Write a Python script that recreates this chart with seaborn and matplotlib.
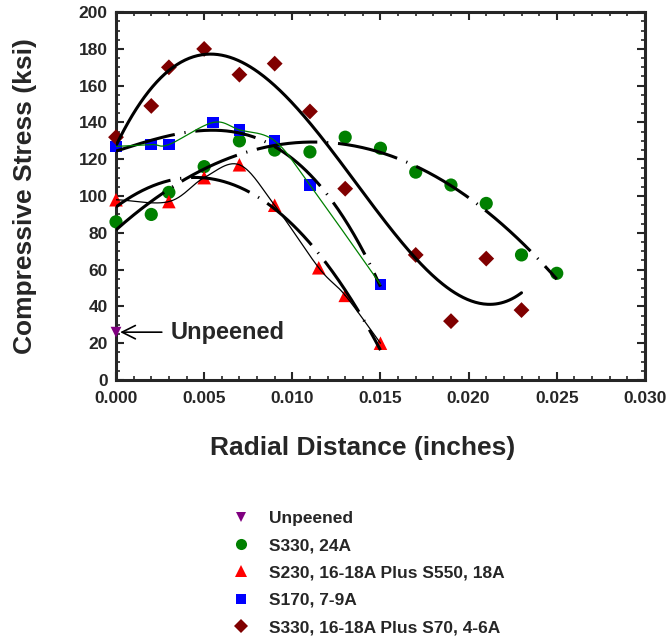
import numpy as np
import pandas as pd
import matplotlib
matplotlib.use("Agg")
import matplotlib.pyplot as plt
from matplotlib.lines import Line2D
from matplotlib.ticker import MultipleLocator, FormatStrFormatter
import seaborn as sns

# ---- data ----
unpeened_x = [0.0]
unpeened_y = [26]

s330_x = [0.0, 0.002, 0.003, 0.005, 0.007, 0.009, 0.011, 0.013, 0.015, 0.017, 0.019, 0.021, 0.023, 0.025]
s330_y = [86, 90, 102, 116, 130, 125, 124, 132, 126, 113, 106, 96, 68, 58]

s230_x = [0.0, 0.003, 0.005, 0.007, 0.009, 0.0115, 0.013, 0.015]
s230_y = [98, 97, 110, 117, 95, 61, 46, 20]

s170_x = [0.0, 0.002, 0.003, 0.0055, 0.007, 0.009, 0.011, 0.015]
s170_y = [127, 128, 128, 140, 136, 130, 106, 52]

s330b_x = [0.0, 0.002, 0.003, 0.005, 0.007, 0.009, 0.011, 0.013, 0.017, 0.019, 0.021, 0.023]
s330b_y = [132, 149, 170, 180, 166, 172, 146, 104, 68, 32, 66, 38]

labels = ["Unpeened", "S330, 24A", "S230, 16-18A Plus S550, 18A",
          "S170, 7-9A", "S330, 16-18A Plus S70, 4-6A"]
colors = ["#800080", "#008000", "#ff0000", "#0000ff", "#800000"]
markers = ["v", "o", "^", "s", "D"]
sizes = [60, 90, 95, 70, 65]

x_ticks = [0.000, 0.005, 0.010, 0.015, 0.020, 0.025, 0.030]
y_ticks = [0, 20, 40, 60, 80, 100, 120, 140, 160, 180, 200]


def catmull_rom(x, y, n=30):
    x = np.asarray(x, float); y = np.asarray(y, float)
    px = np.concatenate([[2 * x[0] - x[1]], x, [2 * x[-1] - x[-2]]])
    py = np.concatenate([[2 * y[0] - y[1]], y, [2 * y[-1] - y[-2]]])
    xs, ys = [], []
    t = np.linspace(0, 1, n)
    for i in range(1, len(px) - 2):
        p0, p1, p2, p3 = [np.array([px[j], py[j]]) for j in range(i - 1, i + 3)]
        pts = 0.5 * ((2 * p1)[:, None] + (-p0 + p2)[:, None] * t
                     + (2 * p0 - 5 * p1 + 4 * p2 - p3)[:, None] * t ** 2
                     + (-p0 + 3 * p1 - 3 * p2 + p3)[:, None] * t ** 3)
        xs.append(pts[0]); ys.append(pts[1])
    return np.concatenate(xs), np.concatenate(ys)


def polyfit_curve(x, y, deg):
    c = np.polyfit(x, y, deg)
    xx = np.linspace(min(x), max(x), 300)
    return xx, np.polyval(c, xx)


sns.set_style("ticks")
plt.rcParams['font.family'] = ['Liberation Sans', 'DejaVu Sans']
plt.rcParams['font.weight'] = 'bold'

fig = plt.figure(figsize=(6.69, 6.38), dpi=100)
ax = fig.add_axes([0.1734, 0.4044, 0.964 - 0.1734, 0.981 - 0.4044])

series = [(unpeened_x, unpeened_y), (s330_x, s330_y), (s230_x, s230_y),
          (s170_x, s170_y), (s330b_x, s330b_y)]

for (xs, ys), c, m, s in zip(series, colors, markers, sizes):
    df = pd.DataFrame({"x": xs, "y": ys})
    sns.scatterplot(data=df, x="x", y="y", ax=ax, color=c, marker=m, s=s,
                    edgecolor="none", linewidth=0, zorder=3, legend=False,
                    clip_on=False)

dash = (0, (20, 3.2, 0.4, 3.2))
# fitted curves
fx, fy = polyfit_curve(s330b_x, s330b_y, 4)
sns.lineplot(x=fx, y=fy, ax=ax, color="black", lw=2.2, sort=False, zorder=4)
fx, fy = polyfit_curve(s330_x, s330_y, 3)
ax.plot(fx, fy, color="black", lw=2.2, linestyle=dash, zorder=4)
fx, fy = polyfit_curve(s230_x, s230_y, 3)
ax.plot(fx, fy, color="black", lw=2.2, linestyle=dash, zorder=4)
fx, fy = polyfit_curve(s170_x, s170_y, 3)
ax.plot(fx, fy, color="black", lw=2.2, linestyle=dash, zorder=4)

# thin smooth connecting lines
sx, sy = catmull_rom(s230_x, s230_y)
ax.plot(sx, sy, color="black", lw=0.9, zorder=4)
sx, sy = catmull_rom(s170_x, s170_y)
ax.plot(sx, sy, color="#008000", lw=0.9, zorder=4)

ax.annotate("Unpeened", xy=(unpeened_x[0], unpeened_y[0]), xytext=(0.0031, 26),
            fontsize=17, fontweight="bold", va="center", ha="left",
            arrowprops=dict(arrowstyle="->", color="black", lw=1.2,
                            mutation_scale=24, shrinkA=4, shrinkB=3))

ax.set_xlim(0, 0.030)
ax.set_ylim(0, 200)
ax.set_xticks(x_ticks)
ax.set_yticks(y_ticks)
ax.xaxis.set_major_formatter(FormatStrFormatter("%.3f"))
ax.xaxis.set_minor_locator(MultipleLocator(0.001))
ax.yaxis.set_minor_locator(MultipleLocator(5))
ax.tick_params(which="both", direction="in", top=True, right=True, width=1.5,
               labelsize=12.5)
ax.tick_params(axis="x", which="major", pad=8)
ax.tick_params(axis="y", which="major", pad=6)
ax.tick_params(which="major", length=6)
ax.tick_params(which="minor", length=3, width=1.2)
for lab in ax.get_xticklabels() + ax.get_yticklabels():
    lab.set_fontweight("bold")
for sp in ax.spines.values():
    sp.set_linewidth(2.2)
    sp.set_visible(True)

ax.set_xlabel("Radial Distance (inches)", fontsize=19, fontweight="bold")
ax.xaxis.set_label_coords(0.467, -0.152)
ax.set_ylabel("Compressive Stress (ksi)", fontsize=19, fontweight="bold", labelpad=30)

handles = [Line2D([], [], linestyle="none", marker=m, color=c, markersize=ms,
                  markeredgewidth=0)
           for m, c, ms in zip(markers, colors, [7, 8, 8, 7, 7])]
fig.legend(handles, labels, loc="upper left", bbox_to_anchor=(0.321, 0.224),
           frameon=False, prop=dict(size=12.5, weight="bold"),
           handletextpad=1.0, labelspacing=0.7, handlelength=1.2)

fig.savefig("out.png", dpi=100)
